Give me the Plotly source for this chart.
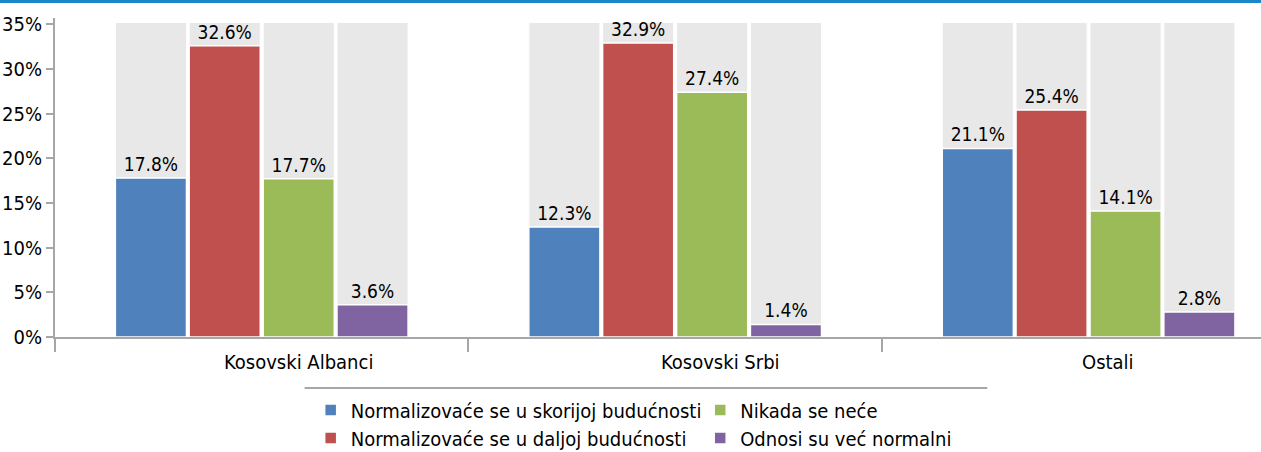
import plotly.graph_objects as go

categories = ["Kosovski Albanci", "Kosovski Srbi", "Ostali"]
series_names = [
    "Normalizovaće se u skorijoj budućnosti",
    "Normalizovaće se u daljoj budućnosti",
    "Nikada se neće",
    "Odnosi su već normalni",
]
skorijoj = [17.8, 12.3, 21.1]
daljoj = [32.6, 32.9, 25.4]
nikada = [17.7, 27.4, 14.1]
normalni = [3.6, 1.4, 2.8]
series_values = [skorijoj, daljoj, nikada, normalni]
y_ticks = [0, 5, 10, 15, 20, 25, 30, 35]
y_tick_labels = ["0%", "5%", "10%", "15%", "20%", "25%", "30%", "35%"]

colors = ["#4F81BD", "#C0504D", "#9BBB59", "#8064A2"]
bg_color = "#E8E8E8"
BG_HEIGHT = 35.2
FONT = "DejaVu Sans Condensed, Liberation Sans Narrow, sans-serif"

offsets = [-0.268, -0.0895, 0.0895, 0.268]
bar_w = 0.172
cat_idx = list(range(len(categories)))

# legend placement: (legend id, x, y)
legend_slots = [("legend", 0.212, -0.229), ("legend3", 0.212, -0.317),
                ("legend2", 0.535, -0.229), ("legend4", 0.535, -0.317)]

fig = go.Figure()

# background gray bars
for k in range(4):
    fig.add_trace(go.Bar(
        x=[i + offsets[k] for i in cat_idx], y=[BG_HEIGHT] * len(categories),
        width=bar_w, marker=dict(color=bg_color, line=dict(color="white", width=1)),
        showlegend=False, hoverinfo="skip"))

legend_ids = ["legend", "legend3", "legend2", "legend4"]
for k in range(4):
    fig.add_trace(go.Bar(
        x=[i + offsets[k] for i in cat_idx], y=series_values[k], width=bar_w,
        name=series_names[k], legend=legend_ids[k],
        marker=dict(color=colors[k], line=dict(color="white", width=1.5)),
        text=[f"{v:.1f}%" for v in series_values[k]], textposition="outside",
        textfont=dict(size=19, color="black", family=FONT), cliponaxis=False))

layout_legends = {}
for lid, lx, ly in legend_slots:
    layout_legends[lid] = dict(x=lx, y=ly, xanchor="left", yanchor="middle",
                               font=dict(size=20, color="black", family=FONT),
                               bgcolor="rgba(0,0,0,0)", itemwidth=30)

label_pos = [0.088, 1.109, 2.047]
annotations = [dict(x=label_pos[i], y=0, xref="x", yref="paper", yshift=-25,
                    yanchor="middle", text=categories[i], showarrow=False,
                    font=dict(size=20, color="black", family=FONT))
               for i in cat_idx]

fig.update_layout(
    width=1261, height=452,
    margin=dict(l=55, r=0, t=18, b=115, autoexpand=False),
    plot_bgcolor="white", paper_bgcolor="white",
    barmode="overlay",
    font=dict(family=FONT, color="black"),
    xaxis=dict(range=[-0.5, 2.417], tickvals=[-0.5, 0.5, 1.5], showticklabels=False,
               ticks="outside", ticklen=13, tickwidth=2, tickcolor="#A6A6A6",
               showline=True, linecolor="#A6A6A6", linewidth=2, showgrid=False,
               zeroline=False, automargin=False),
    yaxis=dict(range=[0, 35.7], tickvals=y_ticks, ticktext=y_tick_labels,
               ticks="outside", ticklen=7, tickwidth=2, tickcolor="#A6A6A6",
               showline=True, linecolor="#A6A6A6", linewidth=2, showgrid=False,
               zeroline=False, automargin=False,
               tickfont=dict(size=20, color="black", family=FONT)),
    annotations=annotations,
    shapes=[
        dict(type="rect", xref="paper", yref="paper", x0=-0.05, x1=1.0,
             y0=1.0470, y1=1.06, fillcolor="#1B87C9", line=dict(width=0)),
        dict(type="line", xref="paper", yref="paper", x0=0.207, x1=0.773,
             y0=-0.16, y1=-0.16, line=dict(color="#A6A6A6", width=2)),
    ],
    **layout_legends,
)

fig.write_html("out.html",
               config={"displayModeBar": False},
               post_script="document.body.style.margin='0';document.body.style.overflow='hidden';")
